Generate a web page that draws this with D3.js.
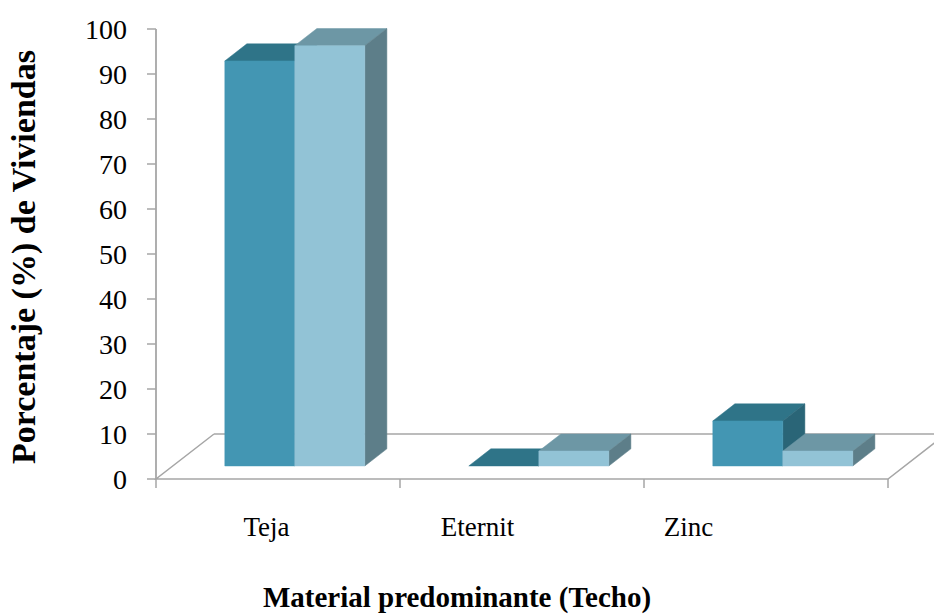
<!DOCTYPE html>
<html>
<head>
<meta charset="utf-8">
<script src="https://cdn.jsdelivr.net/npm/d3@7"></script>
<style>
  html, body { margin: 0; padding: 0; background: #fff; }
  svg { display: block; }
  text { font-family: "Liberation Serif", "Times New Roman", serif; fill: #000; }
</style>
</head>
<body>
<svg id="chart" width="934" height="615"></svg>
<script>
// ---- data ----
const categories = ["Teja", "Eternit", "Zinc"];
const series1 = [90.0, 0.0, 10.0];
const series2 = [93.4, 3.3, 3.3];
const yTicks = [0, 10, 20, 30, 40, 50, 60, 70, 80, 90, 100];
const yTitle = "Porcentaje (%) de Viviendas";
const xTitle = "Material predominante (Techo)";

// ---- styles ----
const colors = [
  { front: "#4396b3", top: "#2f7488", side: "#2a6577" },
  { front: "#92c3d6", top: "#6d97a5", side: "#5d7e89" }
];
const gridColor = "#a6a6a6";

const svg = d3.select("#chart");

// ---- scales ----
const x = d3.scaleBand().domain(categories).range([156, 888]);
const y = d3.scaleLinear().domain([0, 100]).range([479, 29]);
const depthX = d3.scaleLinear().domain([0, 1]).range([0, 58]);
const depthY = d3.scaleLinear().domain([0, 1]).range([0, -45]);
const groupWidth = 140;
const xs = d3.scaleBand().domain([0, 1]).range([0, groupWidth]);
const labelX = d3.scalePoint().domain(categories).range([266.5, 688.5]);
const f0 = 0.29, f1 = 0.67;

// ---- floor ----
const x0 = x.range()[0], x1 = x.range()[1];
const fy = y(0);
const floor = svg.append("g").attr("fill", "none").attr("stroke", gridColor).attr("stroke-width", 1.5);
floor.append("path").attr("d", d3.line()([
  [x0 + depthX(1), fy + depthY(1)], [x0, fy], [x1, fy], [x1 + depthX(1), fy + depthY(1)], [x0 + depthX(1), fy + depthY(1)]
]));
// category ticks
floor.selectAll("line.ct").data(categories.concat(["end"])).join("line")
  .attr("x1", (d, i) => x0 + i * x.bandwidth())
  .attr("x2", (d, i) => x0 + i * x.bandwidth())
  .attr("y1", fy).attr("y2", fy + 9);

// ---- value axis ----
const axis = svg.append("g");
axis.append("line").attr("x1", x0).attr("x2", x0).attr("y1", y(100)).attr("y2", fy)
  .attr("stroke", gridColor).attr("stroke-width", 1.8);
axis.selectAll("line.vt").data(yTicks).join("line")
  .attr("x1", x0 - 9).attr("x2", x0).attr("y1", d => y(d)).attr("y2", d => y(d))
  .attr("stroke", gridColor).attr("stroke-width", 1.5);
axis.selectAll("text").data(yTicks).join("text")
  .attr("x", 127).attr("y", d => y(d)).attr("dy", "0.35em")
  .attr("text-anchor", "end").attr("font-size", 28).text(d => d);

// ---- bars ----
const bars = [];
categories.forEach((c, ci) => {
  [series1, series2].forEach((s, si) => {
    bars.push({ cat: c, si, v: s[ci] });
  });
});
const offset = (x.bandwidth() - groupWidth) / 2;
const ddx = depthX(f1) - depthX(f0), ddy = depthY(f1) - depthY(f0);
const line = d3.line();
const gBars = svg.append("g");
bars.forEach(b => {
  const xl = x(b.cat) + offset + xs(b.si) + depthX(f0);
  const w = xs.bandwidth();
  const yb = y(0) + depthY(f0);
  const yt = y(b.v) + depthY(f0);
  const col = colors[b.si];
  const g = gBars.append("g");
  g.append("path").attr("fill", col.top).attr("stroke", col.top).attr("stroke-width", 0.5)
    .attr("d", line([[xl, yt], [xl + w, yt], [xl + w + ddx, yt + ddy], [xl + ddx, yt + ddy]]) + "Z");
  g.append("path").attr("fill", col.side).attr("stroke", col.side).attr("stroke-width", 0.5)
    .attr("d", line([[xl + w, yb], [xl + w + ddx, yb + ddy], [xl + w + ddx, yt + ddy], [xl + w, yt]]) + "Z");
  if (b.v > 0) {
    g.append("path").attr("fill", col.front).attr("stroke", col.front).attr("stroke-width", 0.5)
      .attr("d", line([[xl, yb], [xl + w, yb], [xl + w, yt], [xl, yt]]) + "Z");
  }
});

// ---- category labels ----
svg.append("g").selectAll("text").data(categories).join("text")
  .attr("x", d => labelX(d)).attr("y", 536)
  .attr("text-anchor", "middle").attr("font-size", 27).text(d => d);

// ---- titles ----
svg.append("text").attr("x", 457).attr("y", 607).attr("text-anchor", "middle")
  .attr("font-size", 29).attr("font-weight", "bold").text(xTitle);
svg.append("text").attr("transform", "translate(35,257) rotate(-90)")
  .attr("text-anchor", "middle").attr("font-size", 34).attr("font-weight", "bold").text(yTitle);
</script>
</body>
</html>
